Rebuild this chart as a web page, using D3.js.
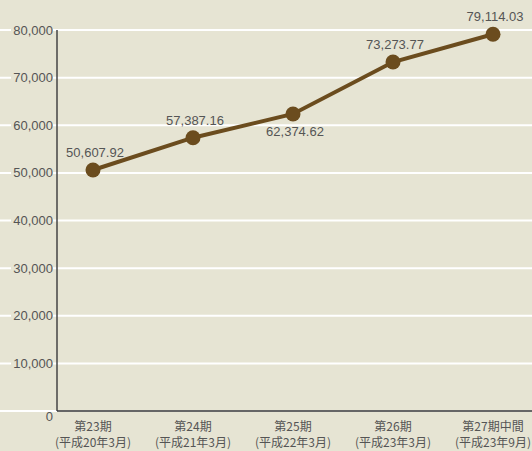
<!DOCTYPE html>
<html>
<head>
<meta charset="utf-8">
<script src="https://cdn.jsdelivr.net/npm/d3@7"></script>
<style>
  body { margin: 0; background: #e6e4d3; }
</style>
</head>
<body>
<div id="container"></div>
<script>
// Declare the chart dimensions and margins.
const width = 532;
const height = 451;
const marginTop = 30;
const marginBottom = 40;
const marginLeft = 57;

const periods = ["第23期", "第24期", "第25期", "第26期", "第27期中間"];
const dates = ["(平成20年3月)", "(平成21年3月)", "(平成22年3月)", "(平成23年3月)", "(平成23年9月)"];
const values = [50607.92, 57387.16, 62374.62, 73273.77, 79114.03];
const labelAbove = [true, true, false, true, true];
const yTicks = [0, 10000, 20000, 30000, 40000, 50000, 60000, 70000, 80000];

const x = d3.scalePoint()
	.domain(periods)
	.range([93, 493]);

const y = d3.scaleLinear()
	.domain([0, 80000])
	.range([height - marginBottom, marginTop]);

const svg = d3.select("#container").append("svg")
	.attr("width", width)
	.attr("height", height)
	.style("display", "block");

svg.append("rect")
	.attr("width", width)
	.attr("height", height)
	.attr("fill", "#e6e4d3");

// Gridlines across the whole width
svg.append("g")
	.selectAll("line")
	.data(yTicks)
	.join("line")
		.attr("x1", 0)
		.attr("x2", width)
		.attr("y1", d => y(d))
		.attr("y2", d => y(d))
		.attr("stroke", "#ffffff")
		.attr("stroke-width", 2);

// Y tick labels with background behind them (not for 0, which sits below its line)
const yl = svg.append("g")
	.selectAll("g")
	.data(yTicks)
	.join("g")
		.attr("transform", d => `translate(53,${d === 0 ? y(d) + 5 : y(d)})`);

yl.filter(d => d !== 0).append("rect")
	.attr("x", -42)
	.attr("y", -7)
	.attr("width", 42)
	.attr("height", 14)
	.attr("fill", "#e6e4d3");

yl.append("text")
	.attr("text-anchor", "end")
	.attr("dy", "0.35em")
	.attr("font-family", "'Liberation Sans', Arial, sans-serif")
	.attr("font-size", 13)
	.attr("fill", "#555")
	.text(d => d3.format(",")(d));

// Axis lines
svg.append("line")
	.attr("x1", marginLeft).attr("x2", marginLeft)
	.attr("y1", y(80000)).attr("y2", y(0))
	.attr("stroke", "#444").attr("stroke-width", 1.5);

svg.append("line")
	.attr("x1", marginLeft).attr("x2", width)
	.attr("y1", y(0)).attr("y2", y(0))
	.attr("stroke", "#333").attr("stroke-width", 1.5);

// X labels, two lines each
const xl = svg.append("g")
	.selectAll("text")
	.data(periods)
	.join("text")
		.attr("x", d => x(d))
		.attr("y", 431)
		.attr("text-anchor", "middle")
		.attr("font-family", "'Noto Sans CJK JP', sans-serif")
		.attr("font-size", 12)
		.attr("fill", "#555");

xl.append("tspan")
	.attr("x", d => x(d))
	.text(d => d);

xl.append("tspan")
	.attr("x", d => x(d))
	.attr("dy", 16)
	.text((d, i) => dates[i]);

// Line
svg.append("path")
	.datum(values)
	.attr("fill", "none")
	.attr("stroke", "#6b4c1e")
	.attr("stroke-width", 4)
	.attr("d", d3.line()
		.x((d, i) => x(periods[i]))
		.y(d => y(d)));

svg.append("g")
	.selectAll("circle")
	.data(values)
	.join("circle")
		.attr("cx", (d, i) => x(periods[i]))
		.attr("cy", d => y(d))
		.attr("r", 7.5)
		.attr("fill", "#6b4c1e");

// Value labels
svg.append("g")
	.selectAll("text")
	.data(values)
	.join("text")
		.attr("x", (d, i) => x(periods[i]) + 2)
		.attr("y", (d, i) => y(d) + (labelAbove[i] ? -13 : 22))
		.attr("text-anchor", "middle")
		.attr("font-family", "'Liberation Sans', Arial, sans-serif")
		.attr("font-size", 13)
		.attr("fill", "#555")
		.text(d => d3.format(",.2f")(d));
</script>
</body>
</html>
